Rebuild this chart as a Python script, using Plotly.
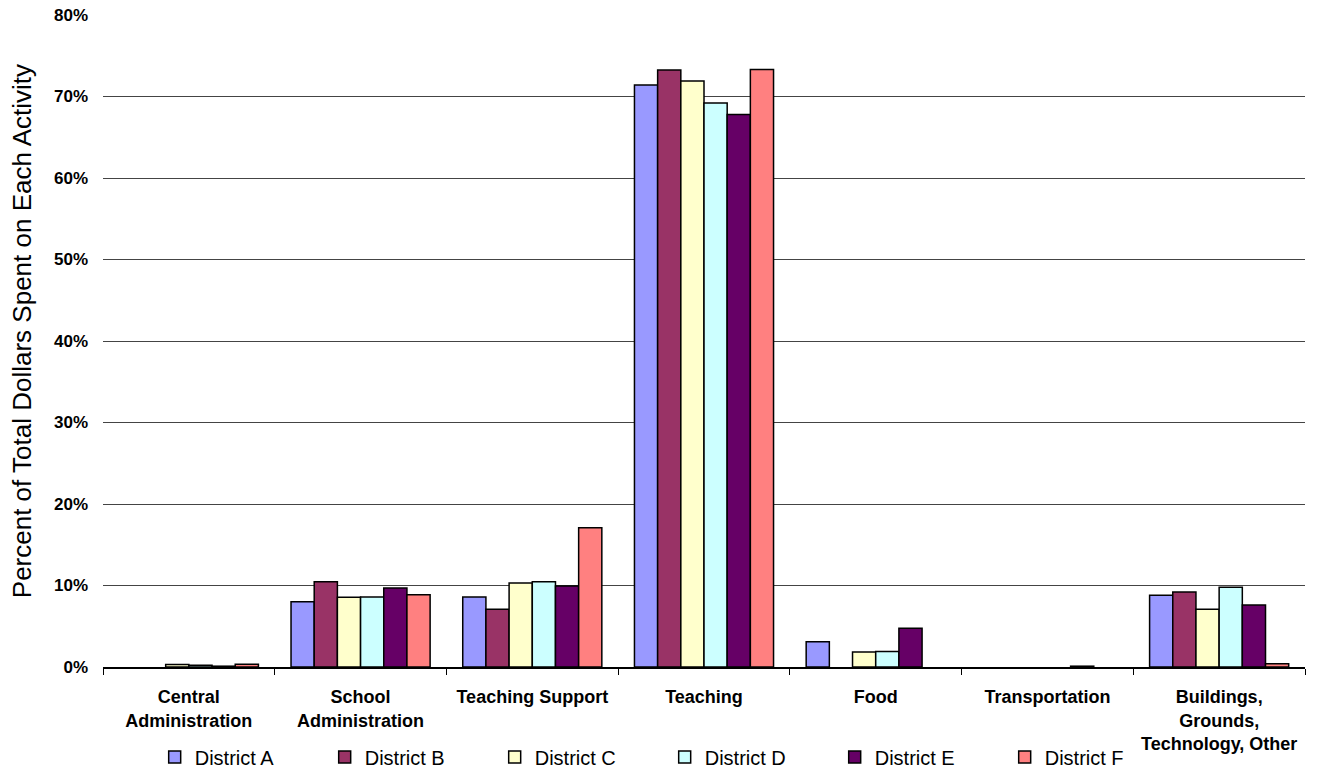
import plotly.graph_objects as go

categories = ["Central<br>Administration", "School<br>Administration", "Teaching Support",
              "Teaching", "Food", "Transportation", "Buildings,<br>Grounds,<br>Technology, Other"]
districts = ["District A", "District B", "District C", "District D", "District E", "District F"]

district_a = [0.0, 8.0, 8.6, 71.4, 3.1, 0.0, 8.8]
district_b = [0.0, 10.45, 7.1, 73.25, 0.0, 0.0, 9.2]
district_c = [0.3, 8.55, 10.3, 71.9, 1.85, 0.0, 7.1]
district_d = [0.2, 8.6, 10.45, 69.2, 1.9, 0.0, 9.8]
district_e = [0.1, 9.7, 9.95, 67.8, 4.75, 0.1, 7.6]
district_f = [0.35, 8.85, 17.1, 73.3, 0.0, 0.0, 0.4]

series = [district_a, district_b, district_c, district_d, district_e, district_f]
colors = ["#9999FF", "#993366", "#FFFFCC", "#CCFFFF", "#660066", "#FF8080"]

tick_vals = [0, 10, 20, 30, 40, 50, 60, 70, 80]
tick_text = ["0%", "10%", "20%", "30%", "40%", "50%", "60%", "70%", "80%"]
y_title = "Percent of Total Dollars Spent on Each Activity"

fig = go.Figure()
for name, vals, col in zip(districts, series, colors):
    fig.add_trace(go.Bar(x=categories, y=[v if v > 0 else None for v in vals], name=name,
                         marker=dict(color=col, line=dict(color="black", width=1.5))))

fig.update_layout(
    width=1320, height=771,
    margin=dict(l=103, r=15, t=15, b=104, autoexpand=False),
    paper_bgcolor="white", plot_bgcolor="white",
    barmode="group", bargap=0.19, bargroupgap=0,
    font=dict(family="Arial", color="black"),
    showlegend=True,
    legend=dict(orientation="h", x=0.043, y=-0.138, xanchor="left", yanchor="middle",
                bgcolor="rgba(0,0,0,0)",
                font=dict(size=20, family="Arial"), entrywidth=125, entrywidthmode="pixels",
                itemwidth=30, traceorder="normal"),
    annotations=[dict(text=y_title, textangle=-90, xref="paper", yref="paper",
                      x=-0.0674, y=0.515, xanchor="center", yanchor="middle",
                      showarrow=False, font=dict(size=26, family="Arial", color="black"))],
)
fig.update_xaxes(showline=True, linecolor="black", linewidth=1.5, ticks="outside",
                 tickson="boundaries", ticklen=6, tickcolor="black", automargin=False,
                 tickfont=dict(size=18, family="Arial", color="black", weight="bold"),
                 ticklabelstandoff=13, showgrid=False)
fig.update_yaxes(range=[0, 80], tickvals=tick_vals, ticktext=tick_text, automargin=False,
                 showgrid=True, gridcolor="#444444", gridwidth=1,
                 showline=False, zeroline=False, ticks="", ticklabelstandoff=14,
                 tickfont=dict(size=17, family="Arial", color="black", weight="bold"))

fig.write_html("out.html")
